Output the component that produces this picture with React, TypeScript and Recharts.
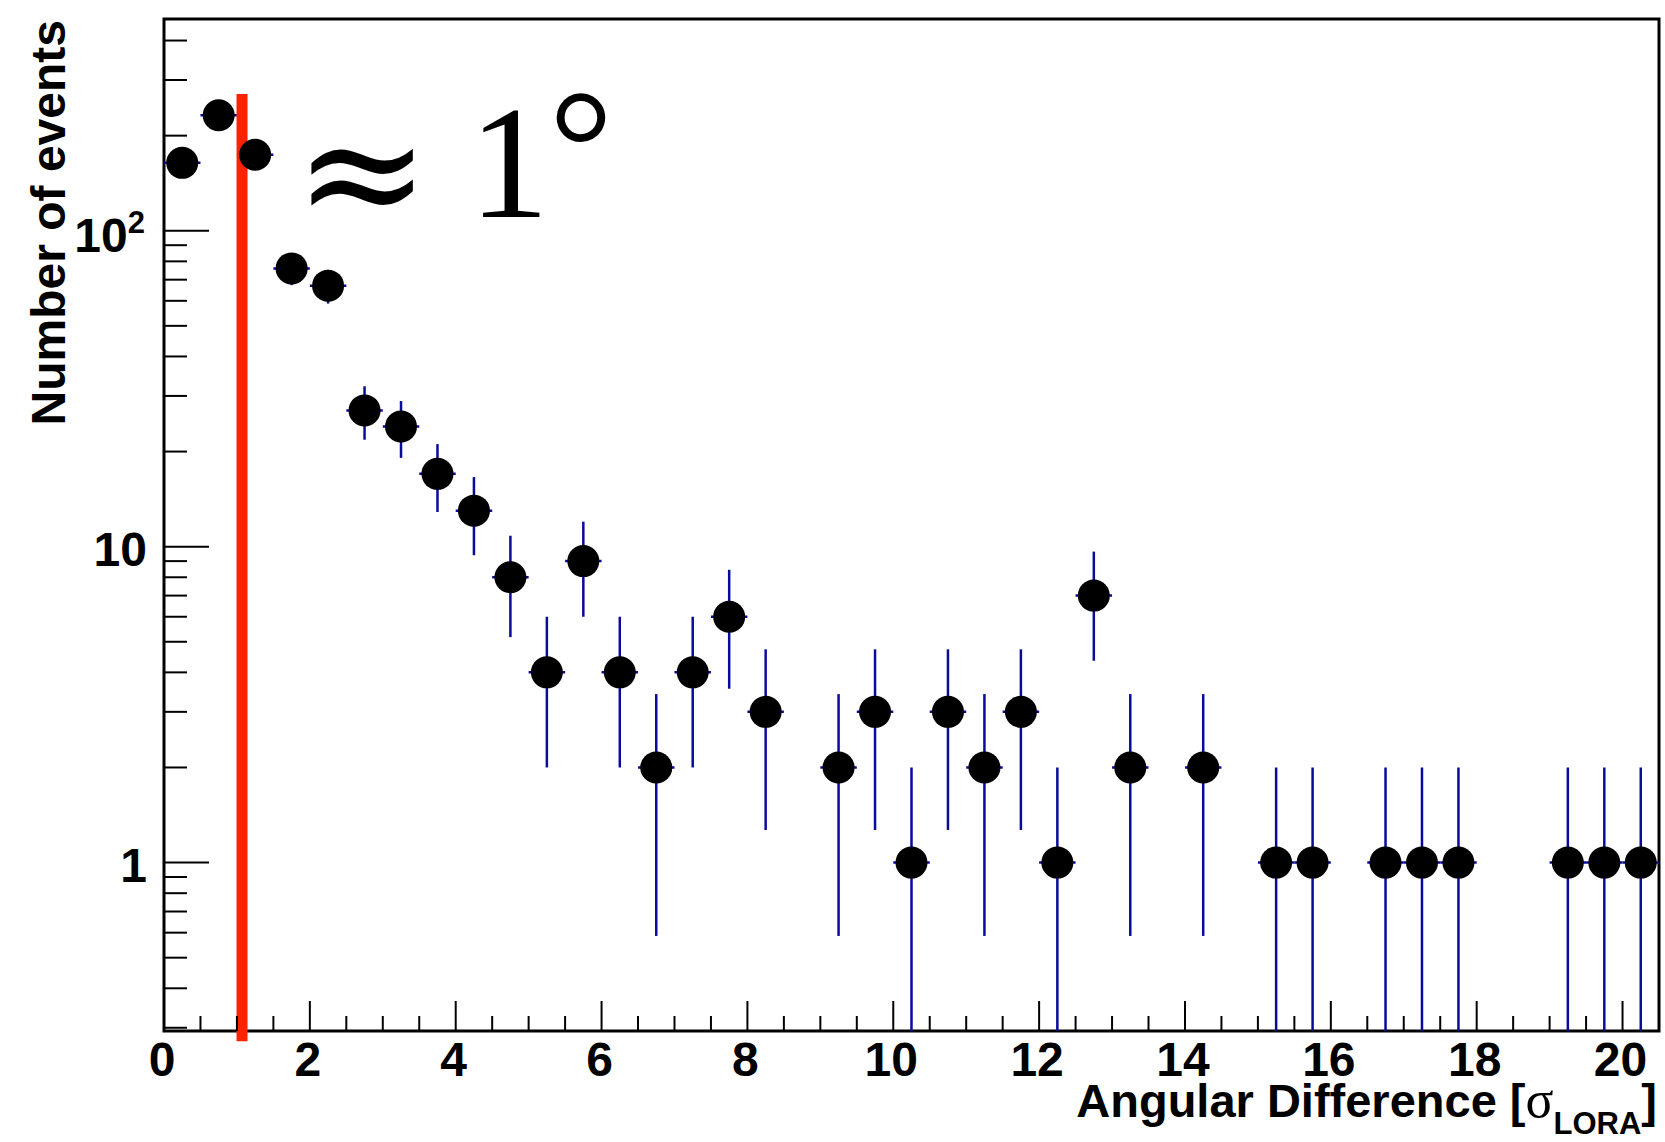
import {
  ErrorBar,
  ReferenceArea,
  ReferenceLine,
  Scatter,
  ScatterChart,
  XAxis,
  YAxis,
} from "recharts";

// bin centres (width 0.5) and counts, empty bins left out
const BIN_CENTERS = [
  0.25, 0.75, 1.25, 1.75, 2.25, 2.75, 3.25, 3.75, 4.25, 4.75, 5.25, 5.75,
  6.25, 6.75, 7.25, 7.75, 8.25, 9.25, 9.75, 10.25, 10.75, 11.25, 11.75,
  12.25, 12.75, 13.25, 14.25, 15.25, 15.75, 16.75, 17.25, 17.75, 19.25,
  19.75, 20.25,
];
const COUNTS = [
  164, 232, 174, 76, 67, 27, 24, 17, 13, 8, 4, 9, 4, 2, 4, 6, 3, 2, 3, 1, 3,
  2, 3, 1, 7, 2, 2, 1, 1, 1, 1, 1, 1, 1, 1,
];
const HALF_BIN = 0.25;

const X_TICKS = [
  0, 0.5, 1, 1.5, 2, 2.5, 3, 3.5, 4, 4.5, 5, 5.5, 6, 6.5, 7, 7.5, 8, 8.5, 9,
  9.5, 10, 10.5, 11, 11.5, 12, 12.5, 13, 13.5, 14, 14.5, 15, 15.5, 16, 16.5,
  17, 17.5, 18, 18.5, 19, 19.5, 20,
];
const X_MAJOR = [0, 2, 4, 6, 8, 10, 12, 14, 16, 18, 20];
const Y_TICKS = [
  0.3, 0.4, 0.5, 0.6, 0.7, 0.8, 0.9, 1, 2, 3, 4, 5, 6, 7, 8, 9, 10, 20, 30,
  40, 50, 60, 70, 80, 90, 100, 200, 300, 400,
];
const Y_MAJOR = [1, 10, 100];

const X_MAX = 20.5;
const Y_MIN = 0.293;
const Y_MAX = 468;

// red cut line at ~1 sigma
const CUT_X = 1.07;
const CUT_TOP = 271;
const CUT_BOTTOM = 0.272;

const FONT = "'Liberation Sans', Arial, Helvetica, sans-serif";
const SERIF = "'Liberation Serif', 'Times New Roman', serif";
const ERR_BLUE = "#0a0a9c";

const points = BIN_CENTERS.map((x, i) => {
  const y = COUNTS[i];
  const e = Math.sqrt(y);
  return { x, y, xErr: HALF_BIN, yErr: [Math.min(e, y - Y_MIN), e] };
});

function XTick(props: any) {
  const { x, y, payload } = props;
  const v = payload.value as number;
  const major = X_MAJOR.includes(v);
  return (
    <g>
      <line x1={x} y1={y} x2={x} y2={y - (major ? 30 : 15)} stroke="#000" strokeWidth={2} />
      {major && (
        <text x={x - 2} y={y + 45} textAnchor="middle" fontFamily={FONT} fontWeight="bold" fontSize={48} fill="#000">
          {v}
        </text>
      )}
    </g>
  );
}

function YTick(props: any) {
  const { x, y, payload } = props;
  const v = payload.value as number;
  const major = Y_MAJOR.includes(v);
  return (
    <g>
      <line x1={x} y1={y} x2={x + (major ? 45 : 23)} y2={y} stroke="#000" strokeWidth={2} />
      {major && v < 100 && (
        <text x={x - 17} y={y + 19} textAnchor="end" fontFamily={FONT} fontWeight="bold" fontSize={48} fill="#000">
          {v}
        </text>
      )}
      {v === 100 && (
        <text x={x - 19} y={y + 21} textAnchor="end" fontFamily={FONT} fontWeight="bold" fontSize={48} fill="#000">
          10
          <tspan fontSize={31} dy={-19}>2</tspan>
        </text>
      )}
    </g>
  );
}

function Marker(props: any) {
  return <circle cx={props.cx} cy={props.cy} r={16} fill="#000" />;
}

export default function App() {
  return (
    <div style={{ position: "absolute", left: 0, top: 0, width: 1665, height: 1142, background: "#fff" }}>
      <ScatterChart width={1665} height={1142} margin={{ top: 19, right: 6, bottom: 0, left: 0 }}>
        <XAxis
          type="number"
          dataKey="x"
          domain={[0, X_MAX]}
          ticks={X_TICKS}
          interval={0}
          allowDataOverflow
          height={111}
          axisLine={false}
          tickLine={false}
          tickSize={0}
          tickMargin={0}
          tick={<XTick />}
        />
        <YAxis
          type="number"
          dataKey="y"
          scale="log"
          domain={[Y_MIN, Y_MAX]}
          ticks={Y_TICKS}
          interval={0}
          allowDataOverflow
          width={164}
          axisLine={false}
          tickLine={false}
          tickSize={0}
          tickMargin={0}
          tick={<YTick />}
        />
        <Scatter data={points} shape={<Marker />} isAnimationActive={false}>
          <ErrorBar dataKey="yErr" direction="y" width={0} stroke={ERR_BLUE} strokeWidth={2.5} isAnimationActive={false} />
          <ErrorBar dataKey="xErr" direction="x" width={0} stroke={ERR_BLUE} strokeWidth={2.5} isAnimationActive={false} />
        </Scatter>
        <ReferenceArea x1={0} x2={X_MAX} y1={Y_MIN} y2={Y_MAX} fill="none" fillOpacity={0} stroke="#000" strokeWidth={3} />
        <ReferenceLine
          segment={[{ x: CUT_X, y: CUT_TOP }, { x: CUT_X, y: CUT_BOTTOM }]}
          stroke="#ff2200"
          strokeWidth={11}
          ifOverflow="visible"
        />
      </ScatterChart>
      <svg width={1665} height={1142} style={{ position: "absolute", left: 0, top: 0, pointerEvents: "none" }}>
        <text
          transform="translate(65, 20) rotate(-90)"
          textAnchor="end"
          fontFamily={FONT}
          fontWeight="bold"
          fontSize={48}
          fill="#000"
        >
          Number of events
        </text>
        <text x={1657} y={1117} textAnchor="end" fontFamily={FONT} fontWeight="bold" fontSize={47} fill="#000">
          Angular Difference [
          <tspan fontFamily={SERIF} fontWeight="normal" fontSize={52}>σ</tspan>
          <tspan fontSize={31} dy={17}>LORA</tspan>
          <tspan dy={-17}>]</tspan>
        </text>
        <text x={362} y={228} textAnchor="middle" fontFamily="'DejaVu Serif', serif" fontSize={162} fill="#000">
          ≈
        </text>
        <text x={509} y={217} textAnchor="middle" fontFamily={SERIF} fontSize={160} fill="#000">
          1
        </text>
        <text x={581} y={200} textAnchor="middle" fontFamily={SERIF} fontSize={160} fill="#000">
          °
        </text>
      </svg>
    </div>
  );
}
